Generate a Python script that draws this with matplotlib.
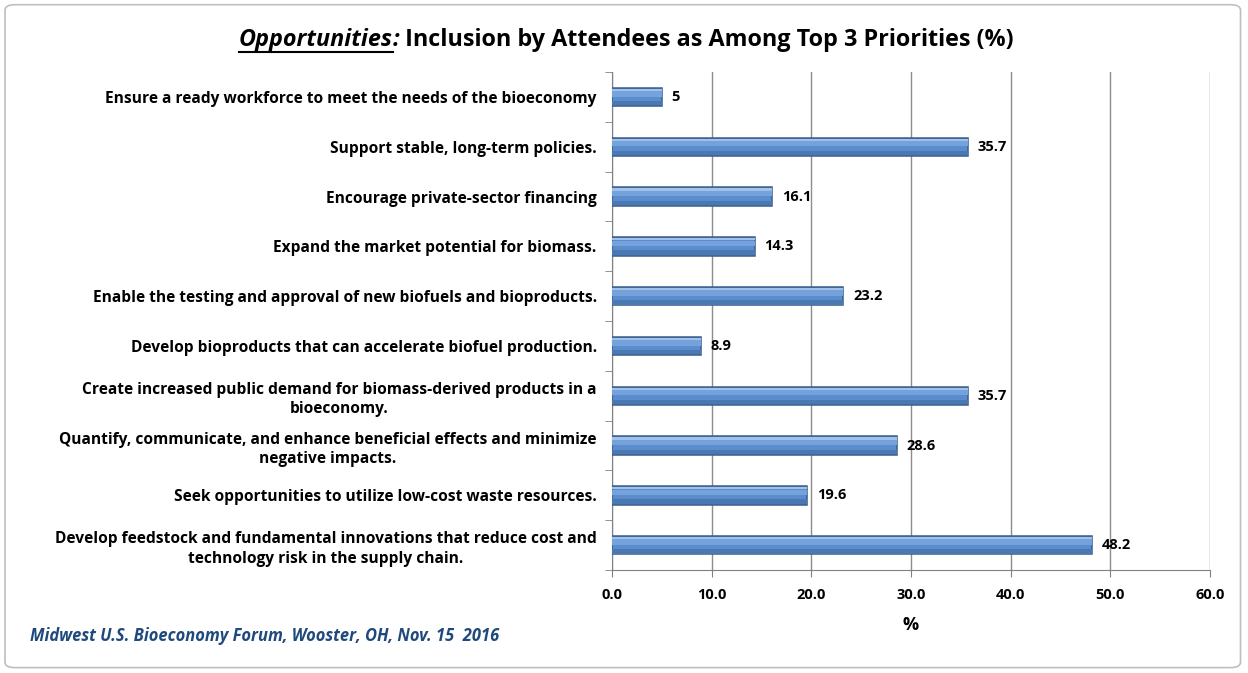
import matplotlib
matplotlib.use("Agg")
import matplotlib.pyplot as plt
from matplotlib.patches import FancyBboxPatch
from matplotlib.lines import Line2D
import numpy as np

# --- Data ---

categories = [
    "Ensure a ready workforce to meet the needs of the bioeconomy",
    "Support stable, long-term policies.",
    "Encourage private-sector financing",
    "Expand the market potential for biomass.",
    "Enable the testing and approval of new biofuels and bioproducts.",
    "Develop bioproducts that can accelerate biofuel production.",
    "Create increased public demand for biomass-derived products in a\nbioeconomy.",
    "Quantify, communicate, and enhance beneficial effects and minimize\nnegative impacts.",
    "Seek opportunities to utilize low-cost waste resources.",
    "Develop feedstock and fundamental innovations that reduce cost and\ntechnology risk in the supply chain.",
]
values = [5, 35.7, 16.1, 14.3, 23.2, 8.9, 35.7, 28.6, 19.6, 48.2]
xticks = [0, 10, 20, 30, 40, 50, 60]

FONT = "Open Sans"
BAR = "#5B8CCB"
BAR_EDGE = "#385D8A"

plt.rcParams["font.family"] = [FONT, "DejaVu Sans"]

fig = plt.figure(figsize=(12.48, 6.73), dpi=100)
ax = fig.add_axes([0.4904, 0.153, 0.4792, 0.740])

y = np.arange(len(categories))

# --- Bars (base + a few soft bands for the bevelled look) ---
ax.barh(y, values, height=0.37, color=BAR, edgecolor=BAR_EDGE, linewidth=1.1, zorder=3)
ax.barh(y - 0.14, values, height=0.045, color="#A3C1E8", linewidth=0, zorder=4)
ax.barh(y - 0.06, values, height=0.11, color="#74A2DD", linewidth=0, zorder=4)
ax.barh(y + 0.125, values, height=0.09, color="#4A78B3", linewidth=0, zorder=4)

for yi, v in zip(y, values):
    ax.annotate(f"{v:g}", (v, yi), xytext=(7, 0), textcoords="offset points",
                va="center", ha="left", fontsize=10.5, fontweight="bold", zorder=5)

ax.set_xlim(0, 60)
ax.set_ylim(len(categories) - 0.5, -0.5)
ax.set_xticks(xticks)
ax.set_xticklabels([f"{t:.1f}" for t in xticks], fontsize=10.5, fontweight="bold")
ax.set_yticks(y)
ax.set_yticklabels(categories, fontsize=11.2, fontweight="bold", multialignment="center",
                   linespacing=1.3)
ax.set_yticks(np.arange(len(categories) + 1) - 0.5, minor=True)
ax.tick_params(axis="y", which="major", length=0, pad=11)
ax.tick_params(axis="y", which="minor", length=5, color="#808080")
ax.tick_params(axis="x", length=5, color="#808080", pad=8)

ax.xaxis.grid(True, color="#8C8C8C", linewidth=1, zorder=0)
for s in ["top", "right"]:
    ax.spines[s].set_visible(False)
for s in ["left", "bottom"]:
    ax.spines[s].set_color("#808080")

ax.set_xlabel("%", fontsize=13, fontweight="bold", labelpad=10)

# --- Title (italic underlined lead-in + bold rest) ---
renderer = fig.canvas.get_renderer()
tsize = 16.8
ty = 0.932
t1 = fig.text(0, ty, "Opportunities", fontsize=tsize, fontweight="bold", style="italic", va="baseline")
t2 = fig.text(0, ty, ":", fontsize=tsize, fontweight="bold", style="italic", va="baseline")
t3 = fig.text(0, ty, " Inclusion by Attendees as Among Top 3 Priorities (%)", fontsize=tsize,
              fontweight="bold", va="baseline")
W = fig.bbox.width
w1 = t1.get_window_extent(renderer).width / W
w2 = t2.get_window_extent(renderer).width / W
w3 = t3.get_window_extent(renderer).width / W
x0 = 0.502 - (w1 + w2 + w3) / 2
t1.set_x(x0)
t2.set_x(x0 + w1)
t3.set_x(x0 + w1 + w2)
fig.add_artist(Line2D([x0, x0 + w1], [ty - 0.009, ty - 0.009], color="black", lw=1.5,
                      transform=fig.transFigure))

# --- Footer ---
fig.text(0.024, 0.048, "Midwest U.S. Bioeconomy Forum, Wooster, OH, Nov. 15  2016",
         fontsize=11.9, fontweight="bold", style="italic", color="#1F497D")

# --- Outer chart border ---
fig.patches.append(FancyBboxPatch((0.004, 0.008), 0.99, 0.985,
                                  boxstyle="round,pad=0,rounding_size=0.008",
                                  transform=fig.transFigure, fill=False,
                                  edgecolor="#BFBFBF", linewidth=1.2))

fig.savefig("out.png", dpi=100)
plt.close(fig)
